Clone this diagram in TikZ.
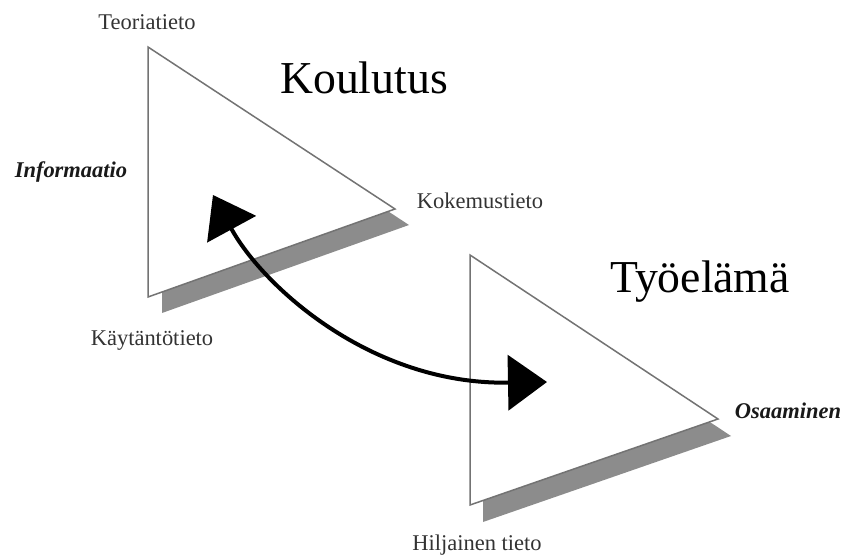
\documentclass[tikz,border=0pt]{standalone}
\usepackage{fontspec}
\setmainfont{Liberation Serif}
\usetikzlibrary{arrows.meta, positioning}

\begin{document}
\begin{tikzpicture}[
    x=0.2mm, y=-0.2mm,
    tri/.style={draw=black!55, line width=0.3mm, fill=white, line join=miter},
    shade/.style={fill=black!45},
    lbl/.style={font=\fontsize{12.8}{15}\selectfont, text=black!80},
    keylbl/.style={font=\fontsize{12.8}{15}\selectfont\bfseries\itshape, text=black!90},
    title/.style={font=\fontsize{26}{31}\selectfont},
    flow/.style={line width=0.8mm, {Triangle[length=7.8mm, width=11mm]}-{Triangle[length=7.8mm, width=11mm]}}
]
\useasboundingbox (0,0) rectangle (844,557);

% Koulutus triangle
\coordinate (k1) at (148,47);
\coordinate (k2) at (148,297);
\coordinate (k3) at (395,209);
\fill[shade] ([shift={(14,16)}]k1) -- ([shift={(14,16)}]k2) -- ([shift={(14,16)}]k3) -- cycle;
\draw[tri] (k1) -- (k2) -- (k3) -- cycle;

% Tyoelama triangle
\coordinate (t1) at (470,255);
\coordinate (t2) at (470,505);
\coordinate (t3) at (718,419);
\fill[shade] ([shift={(13,17)}]t1) -- ([shift={(13,17)}]t2) -- ([shift={(13,17)}]t3) -- cycle;
\draw[tri] (t1) -- (t2) -- (t3) -- cycle;

% labels
\node[lbl] (teoria) at (147,22) {Teoriatieto};
\node[keylbl] (info) at (71,172) {Informaatio};
\node[lbl] (kokemus) at (480,201) {Kokemustieto};
\node[lbl] (kaytanto) at (152,340) {Käytäntötieto};
\node[keylbl] (osaa) at (788,411) {Osaaminen};
\node[lbl] (hiljainen) at (477,545) {Hiljainen tieto};
\node[title] (koulutus) at (364,78) {Koulutus};
\node[title] (tyoelama) at (700,282) {Työelämä};

% two-way arrow
\coordinate (a1) at (213,195);
\coordinate (a2) at (547,382);
\draw[flow] (a1) .. controls (262,285) and (370,385) .. (a2);
\end{tikzpicture}
\end{document}
